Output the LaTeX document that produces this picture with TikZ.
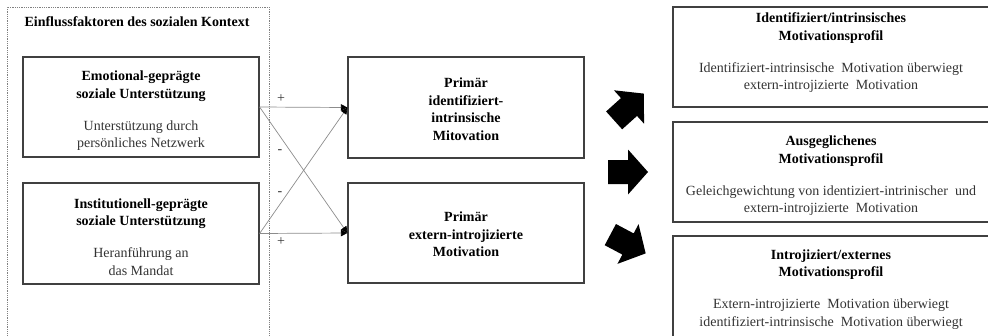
\documentclass[tikz,border=0pt]{standalone}
\usepackage{fontspec}
\setmainfont{Liberation Serif}
\usetikzlibrary{arrows.meta}
\newcommand\boldline[1]{\textbf{\color{black}#1}}
\newcommand\toppad[1]{\rule{0pt}{#1}}
\begin{document}
\begin{tikzpicture}[x=1pt,y=-1pt,
  box/.style={draw=black!75, line width=1.2pt, inner sep=0pt, align=center,
    font=\fontsize{14}{17.5}\selectfont, text=black!80},
  conn/.style={draw=black!45, line width=0.7pt, -{Triangle[length=6.5pt,width=6.5pt,color=black]}},
  sign/.style={font=\fontsize{14}{16}\selectfont, text=black!80, inner sep=0pt},
  blockarrow/.style={fill=black}
]
\useasboundingbox (0,0) rectangle (988,335);
\clip (0,0) rectangle (988,335);

% context frame
\node[draw=black!50, densely dotted, line width=0.8pt, minimum width=262pt, minimum height=340pt, inner sep=0pt] (ctx) at (138,177) {};
\node[font=\bfseries\fontsize{14}{16}\selectfont, inner sep=0pt] (title) at (137,22) {Einflussfaktoren des sozialen Kontext};

% left boxes
\node[box, minimum width=236pt, minimum height=100pt] (emo) at (141,107)
  {\toppad{17pt}\boldline{Emotional-geprägte}\\\boldline{soziale Unterstützung}\\[14.5pt]Unterstützung durch\\persönliches Netzwerk};
\node[box, minimum width=236pt, minimum height=101pt] (inst) at (141,233.5)
  {\toppad{17pt}\boldline{Institutionell-geprägte}\\\boldline{soziale Unterstützung}\\[14.5pt]Heranführung an\\das Mandat};

% middle boxes
\node[box, minimum width=236pt, minimum height=101pt] (mid1) at (466,107.5)
  {\toppad{13pt}\boldline{Primär}\\\boldline{identifiziert-}\\\boldline{intrinsische}\\\boldline{Mitovation}};
\node[box, minimum width=236pt, minimum height=100pt] (mid2) at (466,233)
  {\toppad{13pt}\boldline{Primär}\\\boldline{extern-introjizierte}\\\boldline{Motivation}};

% right boxes
\node[box, minimum width=316pt, minimum height=100pt] (r1) at (831,57)
  {\toppad{13pt}\boldline{Identifiziert/intrinsisches}\\\boldline{Motivationsprofil}\\[14.5pt]Identifiziert-intrinsische\ \ Motivation überwiegt\\extern-introjizierte\ \ Motivation\\[-3pt]\mbox{}};
\node[box, minimum width=316pt, minimum height=100pt] (r2) at (831,172)
  {\toppad{17pt}\boldline{Ausgeglichenes}\\\boldline{Motivationsprofil}\\[14.5pt]Geleichgewichtung von identiziert-intrinischer\ \ und\\extern-introjizierte\ \ Motivation};
\node[box, minimum width=316pt, minimum height=106pt] (r3) at (831,289)
  {\toppad{11pt}\boldline{Introjiziert/externes}\\\boldline{Motivationsprofil}\\[14.5pt]Extern-introjizierte\ \ Motivation überwiegt\\identifiziert-intrinsische\ \ Motivation überwiegt};

% connectors
\draw[conn] (emo.east) -- (mid1.west);
\draw[conn] (emo.east) -- (mid2.west);
\draw[conn] (inst.east) -- (mid1.west);
\draw[conn] (inst.east) -- (mid2.west);

\node[sign] (s1) at (281,99) {+};
\node[sign] (s2) at (280,152) {-};
\node[sign] (s3) at (280,194) {-};
\node[sign] (s4) at (281,242) {+};

% block arrows
\fill[blockarrow, shift={(629,107)}, rotate=42]
  (-20,-12) -- (0,-12) -- (0,-22.5) -- (20,0) -- (0,22.5) -- (0,12) -- (-20,12) -- cycle;
\fill[blockarrow, shift={(628,172)}]
  (-20,-12) -- (0,-12) -- (0,-22.5) -- (20,0) -- (0,22.5) -- (0,12) -- (-20,12) -- cycle;
\fill[blockarrow, shift={(628,244)}, rotate=-28]
  (-20,-12) -- (0,-12) -- (0,-22.5) -- (20,0) -- (0,22.5) -- (0,12) -- (-20,12) -- cycle;
\end{tikzpicture}
\end{document}
